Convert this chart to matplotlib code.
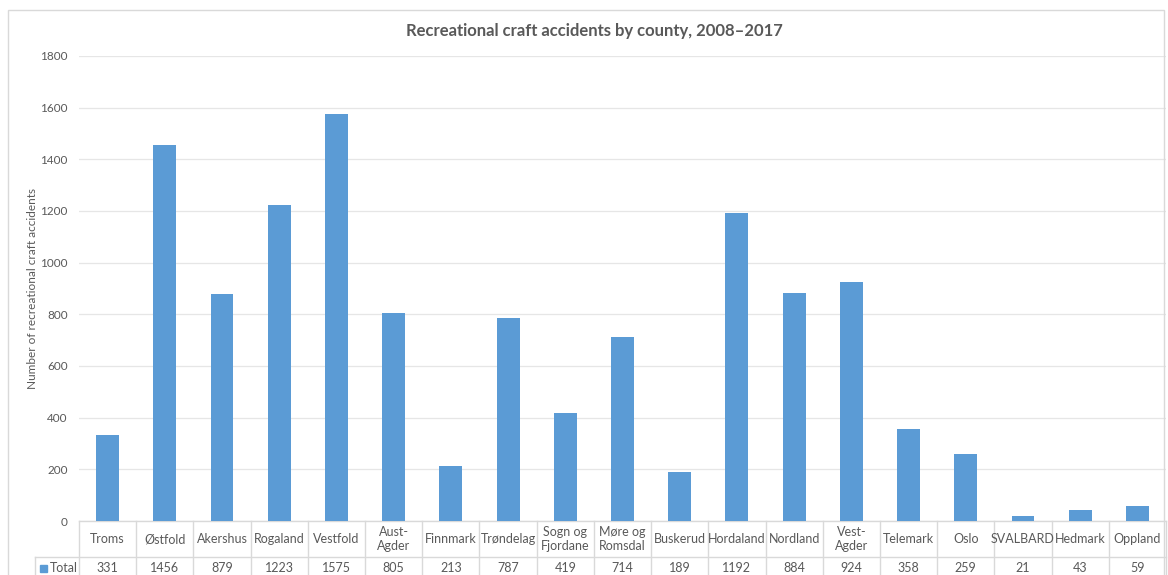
import matplotlib
matplotlib.use("Agg")
import matplotlib.pyplot as plt
from matplotlib.transforms import blended_transform_factory
from matplotlib.patches import Rectangle

plt.rcParams["font.family"] = ["Lato", "DejaVu Sans"]

# accidents per county, 2008-2017
counties = ["Troms", "Østfold", "Akershus", "Rogaland", "Vestfold", "Aust-\nAgder",
            "Finnmark", "Trøndelag", "Sogn og\nFjordane", "Møre og\nRomsdal",
            "Buskerud", "Hordaland", "Nordland", "Vest-\nAgder", "Telemark",
            "Oslo", "SVALBARD", "Hedmark", "Oppland"]
totals = [331, 1456, 879, 1223, 1575, 805, 213, 787, 419, 714,
          189, 1192, 884, 924, 358, 259, 21, 43, 59]
yticks = [0, 200, 400, 600, 800, 1000, 1200, 1400, 1600, 1800]

BAR = "#5b9bd5"
TXT = "#595959"
LINE = "#d9d9d9"

W, H = 1168, 575
fig = plt.figure(figsize=(W / 100, H / 100), dpi=100)

# outer chart frame
fig.patches.append(Rectangle((8 / W, -0.01), (1164 - 8) / W, 1 - 10 / H + 0.01,
                             transform=fig.transFigure, fill=False,
                             ec=LINE, lw=1.0))

x0, x1, ytop, ybot = 79, 1166, 56, 521
ax = fig.add_axes([x0 / W, 1 - ybot / H, (x1 - x0) / W, (ybot - ytop) / H])

xs = range(len(counties))
ax.bar(xs, totals, width=0.4, color=BAR, zorder=3)
ax.set_xlim(-0.5, len(counties) - 0.5)
ax.set_ylim(0, 1800)
ax.set_yticks(yticks)
ax.set_yticklabels([str(v) for v in yticks], color=TXT, fontsize=8.5)
ax.tick_params(axis="y", length=0, pad=8)
ax.set_xticks([])
ax.grid(axis="y", color="#e6e6e6", lw=0.9, zorder=0)
for s in ax.spines.values():
    s.set_visible(False)

ax.set_ylabel("Number of recreational craft accidents", color=TXT, fontsize=8.5)
ax.yaxis.set_label_coords((38 - x0) / (x1 - x0), 0.5)
fig.text(594 / W, 1 - 31 / H,
         "Recreational craft accidents by county, 2008\u20132017",
         ha="center", va="center", fontsize=12, fontweight="bold", color=TXT)

# data table under the axis
ph = ybot - ytop
hdr = -36 / ph
row = -58 / ph
tr = blended_transform_factory(ax.transData, ax.transAxes)
n = len(counties)
ax.plot([-0.5, n - 0.5], [0, 0], transform=tr, color=LINE, lw=1.0,
        clip_on=False)
for i in range(n + 1):
    ax.plot([i - 0.5, i - 0.5], [0, row], transform=tr, color=LINE, lw=1.0,
            clip_on=False)
for i, (name, val) in enumerate(zip(counties, totals)):
    ax.text(i, hdr / 2, name, transform=tr, ha="center", va="center",
            fontsize=9, color=TXT, linespacing=1.2, clip_on=False)
    ax.text(i, (hdr + row) / 2, str(val), transform=tr, ha="center",
            va="center", fontsize=9, color=TXT, clip_on=False)

# legend key cell on the left of the value row
ax_x = lambda px: (px - x0) / (x1 - x0)
ta = ax.transAxes
ax.plot([ax_x(35), 1], [hdr, hdr], transform=ta, color=LINE, lw=1.0,
        clip_on=False)
ax.plot([ax_x(35), ax_x(35)], [hdr, row], transform=ta, color=LINE, lw=1.0,
        clip_on=False)
ax.add_patch(Rectangle((ax_x(40), (hdr + row) / 2 - 3.5 / ph), 7 / (x1 - x0),
                       7 / ph, transform=ta, color=BAR, clip_on=False))
ax.text(ax_x(50), (hdr + row) / 2, "Total", transform=ta, ha="left",
        va="center", fontsize=9, color=TXT, clip_on=False)

fig.savefig("out.png", dpi=100)
